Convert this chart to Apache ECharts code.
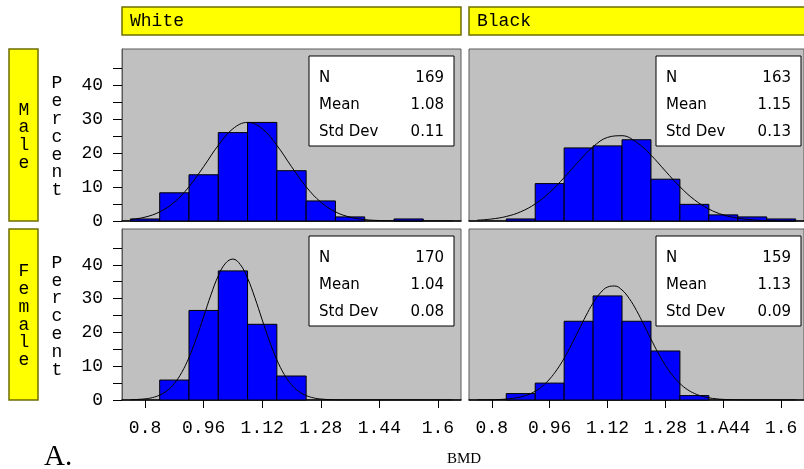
<!DOCTYPE html>
<html><head><meta charset="utf-8">
<script src="https://cdn.jsdelivr.net/npm/echarts@6/dist/echarts.min.js"></script>
<style>html,body{margin:0;padding:0;background:#fff}#c{width:804px;height:469px}</style>
</head><body><div id="c"></div>
<script>
// ---- data ----
const colLabels = ['White', 'Black'];
const rowLabels = ['Male', 'Female'];
const yAxisTitle = 'Percent';
const xAxisTitle = 'BMD';
const panelTag = 'A.';
const xTicks = [0.8, 0.96, 1.12, 1.28, 1.44, 1.6];
const yTicks = [0, 10, 20, 30, 40];
const yMinorTicks = [0, 5, 10, 15, 20, 25, 30, 35, 40, 45];
const binWidth = 0.08;

const binsWhiteMale = [0.80, 0.88, 0.96, 1.04, 1.12, 1.20, 1.28, 1.36, 1.44, 1.52];
const pctWhiteMale  = [0.6, 8.3, 13.6, 26.0, 29.0, 14.8, 5.9, 1.2, 0, 0.6];
const binsBlackMale = [0.88, 0.96, 1.04, 1.12, 1.20, 1.28, 1.36, 1.44, 1.52, 1.60];
const pctBlackMale  = [0.6, 11.0, 21.5, 22.1, 23.9, 12.3, 4.9, 1.8, 1.2, 0.6];
const binsWhiteFemale = [0.88, 0.96, 1.04, 1.12, 1.20];
const pctWhiteFemale  = [5.9, 26.5, 38.2, 22.4, 7.1];
const binsBlackFemale = [0.88, 0.96, 1.04, 1.12, 1.20, 1.28, 1.36];
const pctBlackFemale  = [1.9, 5.0, 23.3, 30.8, 23.3, 14.5, 1.3];

// fitted normal curves
const curveXWhiteMale = [0.76,0.80,0.84,0.88,0.92,0.96,1.00,1.04,1.08,1.12,1.16,1.20,1.24,1.28,1.32,1.36,1.40,1.44,1.48,1.52,1.56,1.60,1.64];
const curveYWhiteMale = [0.42,1.14,2.69,5.55,10.07,16.0,22.26,27.15,29.0,27.15,22.26,16.0,10.07,5.55,2.69,1.14,0.42,0.14,0.04,0.01,0,0,0];
const curveXBlackMale = [0.76,0.80,0.84,0.88,0.92,0.96,1.00,1.04,1.08,1.12,1.16,1.20,1.24,1.28,1.32,1.36,1.40,1.44,1.48,1.52,1.56,1.60,1.64];
const curveYBlackMale = [0.24,0.59,1.33,2.72,5.03,8.42,12.78,17.55,21.84,24.6,25.09,23.17,19.38,14.68,10.07,6.26,3.52,1.79,0.83,0.35,0.13,0.04,0.01];
const curveXWhiteFemale = [0.76,0.80,0.82,0.84,0.86,0.88,0.90,0.92,0.94,0.96,0.98,1.00,1.02,1.04,1.06,1.08,1.10,1.12,1.14,1.16,1.18,1.20,1.22,1.24,1.26,1.28,1.32,1.36,1.40,1.48,1.56,1.64];
const curveYWhiteFemale = [0.06,0.33,0.71,1.45,2.75,4.89,8.12,12.59,18.22,24.64,31.13,36.74,40.5,41.7,40.1,36.04,30.25,23.71,17.37,11.88,7.59,4.53,2.53,1.32,0.64,0.29,0.05,0,0,0,0,0];
const curveXBlackFemale = [0.76,0.80,0.82,0.84,0.86,0.88,0.90,0.92,0.94,0.96,0.98,1.00,1.02,1.04,1.06,1.08,1.10,1.12,1.14,1.16,1.18,1.20,1.22,1.24,1.26,1.28,1.30,1.32,1.34,1.36,1.38,1.40,1.42,1.44,1.48,1.52,1.56,1.64];
const curveYBlackFemale = [0.02,0.07,0.14,0.27,0.51,0.91,1.57,2.60,4.11,6.21,8.96,12.37,16.33,20.61,24.87,28.71,31.68,33.43,33.73,32.55,30.02,26.49,22.34,18.02,13.90,10.25,7.22,4.87,3.14,1.94,1.14,0.64,0.35,0.18,0.04,0.01,0,0];

const statLabels = ['N', 'Mean', 'Std Dev'];
const statsWhiteMale   = ['169', '1.08', '0.11'];
const statsBlackMale   = ['163', '1.15', '0.13'];
const statsWhiteFemale = ['170', '1.04', '0.08'];
const statsBlackFemale = ['159', '1.13', '0.09'];

// ---- layout ----
const MONO = '"Courier New","Liberation Mono",monospace';
const SANS = '"DejaVu Sans",sans-serif';
const SERIF = '"Liberation Serif","Times New Roman",serif';
const colX = [122, 469];
const rowY = [49, 229];
const rowH = [172, 171];
const gW = 339;
const boxX = [309, 656];
const xMin = 0.737, xMax = 1.663, yMax = 50.6;

const panels = [
  {r:0, c:0, bins:binsWhiteMale, pct:pctWhiteMale, cx:curveXWhiteMale, cy:curveYWhiteMale, stats:statsWhiteMale},
  {r:0, c:1, bins:binsBlackMale, pct:pctBlackMale, cx:curveXBlackMale, cy:curveYBlackMale, stats:statsBlackMale},
  {r:1, c:0, bins:binsWhiteFemale, pct:pctWhiteFemale, cx:curveXWhiteFemale, cy:curveYWhiteFemale, stats:statsWhiteFemale},
  {r:1, c:1, bins:binsBlackFemale, pct:pctBlackFemale, cx:curveXBlackFemale, cy:curveYBlackFemale, stats:statsBlackFemale}
];

const grid = [], xAxis = [], yAxis = [], series = [], graphic = [];
panels.forEach((p, i) => {
  grid.push({left: colX[p.c], top: rowY[p.r], width: gW, height: rowH[p.r], show: true,
    backgroundColor: '#c0c0c0', borderColor: '#5a5a5a', borderWidth: 1, containLabel: false});
  const bottom = p.r === 1;
  xAxis.push({type: 'value', gridIndex: i, min: xMin, max: xMax,
    axisLine: {show: true, onZero: false, lineStyle: {color: '#000', width: 1.5}},
    splitLine: {show: false},
    axisTick: {show: bottom, length: 8, customValues: xTicks, lineStyle: {color: '#000'}},
    axisLabel: {show: bottom, customValues: xTicks, margin: 19, fontFamily: MONO, fontSize: 18, color: '#000',
      formatter: v => (p.c === 1 && Math.abs(v - 1.44) < 1e-9) ? '1.A44' : String(v)}
  });
  const left = p.c === 0;
  yAxis.push({type: 'value', gridIndex: i, min: 0, max: yMax,
    axisLine: {show: left, lineStyle: {color: '#5a5a5a'}},
    splitLine: {show: false},
    axisTick: {show: left, length: 9, customValues: yMinorTicks, lineStyle: {color: '#000'}},
    axisLabel: {show: left, customValues: yTicks, margin: 19, fontFamily: MONO, fontSize: 18, color: '#000'}
  });
  series.push({type: 'custom', xAxisIndex: i, yAxisIndex: i, z: 2,
    data: p.bins.map((b, k) => [b, p.pct[k]]),
    renderItem: (params, api) => {
      const c = api.value(0), v = api.value(1);
      if (!v) return null;
      const a = api.coord([c - binWidth / 2, v]);
      const b = api.coord([c + binWidth / 2, 0]);
      return {type: 'rect', shape: {x: a[0], y: a[1], width: b[0] - a[0], height: b[1] - a[1]},
        style: {fill: '#0000ff', stroke: '#000', lineWidth: 1}};
    }
  });
  series.push({type: 'line', xAxisIndex: i, yAxisIndex: i, z: 3, smooth: 0.4, symbol: 'none',
    lineStyle: {color: '#000', width: 1}, data: p.cx.map((x, k) => [x, p.cy[k]])});
  // inset stats box
  const bx = boxX[p.c];
  const by = rowY[p.r] + 7;
  graphic.push({type: 'rect', shape: {x: bx, y: by, width: 145, height: 90}, z: 10,
    style: {fill: '#fff', stroke: '#000', lineWidth: 1}});
  statLabels.forEach((s, k) => {
    graphic.push({type: 'text', x: bx + 10, y: by + 22 + k * 27, z: 11,
      style: {text: s, font: '15px ' + SANS, fill: '#000', textVerticalAlign: 'middle'}});
    graphic.push({type: 'text', x: bx + 135, y: by + 22 + k * 27, z: 11,
      style: {text: p.stats[k], font: '15px ' + SANS, fill: '#000', textAlign: 'right', textVerticalAlign: 'middle'}});
  });
});

// column headers
colLabels.forEach((t, c) => {
  graphic.push({type: 'rect', shape: {x: colX[c], y: 7, width: gW, height: 28},
    style: {fill: '#ffff00', stroke: '#6e6e00', lineWidth: 1.5}});
  graphic.push({type: 'text', x: colX[c] + 8, y: 21,
    style: {text: t, font: '18px ' + MONO, fill: '#000', textVerticalAlign: 'middle'}});
});
// row headers + axis title letters
rowLabels.forEach((t, r) => {
  graphic.push({type: 'rect', shape: {x: 9, y: rowY[r], width: 29, height: rowH[r]},
    style: {fill: '#ffff00', stroke: '#6e6e00', lineWidth: 1.5}});
  graphic.push({type: 'text', x: 24, y: rowY[r] + rowH[r] / 2 + 1.5,
    style: {text: t.split('').join('\n'), font: '18px ' + MONO, lineHeight: 17.8, fill: '#000',
      textAlign: 'center', textVerticalAlign: 'middle'}});
  graphic.push({type: 'text', x: 57, y: rowY[r] + rowH[r] / 2 + 2,
    style: {text: yAxisTitle.split('').join('\n'), font: '18px ' + MONO, lineHeight: 17.8, fill: '#000',
      textAlign: 'center', textVerticalAlign: 'middle'}});
});
graphic.push({type: 'text', x: 464, y: 459,
  style: {text: xAxisTitle, font: '15px ' + SERIF, fill: '#000', textAlign: 'center', textVerticalAlign: 'middle'}});
graphic.push({type: 'text', x: 44, y: 457,
  style: {text: panelTag, font: '29px ' + SERIF, fill: '#000', textVerticalAlign: 'middle'}});

const chart = echarts.init(document.getElementById('c'), null, {renderer: 'canvas'});
chart.setOption({animation: false, backgroundColor: '#fff', grid, xAxis, yAxis, series, graphic});
</script></body></html>
